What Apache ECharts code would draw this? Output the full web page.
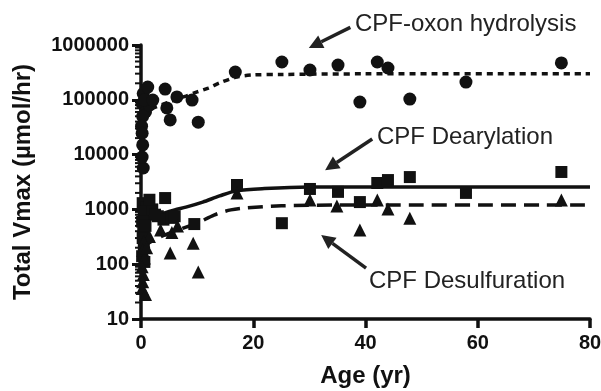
<!DOCTYPE html>
<html>
<head>
<meta charset="utf-8">
<script src="https://cdn.jsdelivr.net/npm/echarts@6/dist/echarts.min.js"></script>
<style>
  html, body { margin: 0; padding: 0; background: #fff; }
  #chart { width: 601px; height: 391px; }
</style>
</head>
<body>
<div id="chart"></div>
<script>
// [age (yr), total Vmax (µmol/hr)]
const oxonPoints = [
  [0.4, 130000], [0.2, 85000], [0.8, 60000], [0.3, 50000], [0.1, 33000], [0.2, 24500],
  [0.3, 15000], [0.4, 5700], [1.5, 80000], [0.6, 100000], [0.2, 9000],
  [1.2, 171000], [4.3, 157000], [2.1, 99000], [6.4, 113000], [9.1, 99000], [4.6, 71000],
  [5.2, 43000], [10.2, 39000], [16.8, 321000], [25.1, 490000], [30.1, 350000],
  [35.1, 431000], [42.1, 490000], [44.0, 380000], [39.0, 91000], [47.9, 103000],
  [57.9, 211000], [74.9, 470000]
]
const dearylPoints = [
  [0.3, 1300], [1.0, 1100], [0.5, 900], [2.0, 1000], [3.0, 750], [4.0, 650], [5.5, 700],
  [1.5, 1500], [0.2, 600], [0.4, 420], [0.3, 300], [0.5, 200], [0.2, 140], [0.6, 110],
  [2.5, 800], [0.8, 500], [6.0, 750],
  [4.3, 1610], [17.1, 2790], [30.1, 2360], [9.5, 540], [25.1, 560], [35.1, 2090],
  [42.1, 3030], [44.0, 3430], [47.9, 3890], [39.0, 1360], [57.9, 2000], [74.9, 4820]
]
const desulfPoints = [
  [3.5, 420], [5.5, 380], [1.5, 320], [6.5, 500], [0.5, 260], [0.3, 180], [0.6, 130],
  [0.2, 90], [0.4, 65], [0.3, 48], [0.2, 36], [1.0, 200], [0.8, 28],
  [5.2, 160], [9.3, 240], [10.2, 72], [30.1, 1480], [17.1, 2000], [34.9, 1150],
  [42.1, 1480], [44.0, 1020], [47.9, 690], [39.0, 420], [74.9, 1480]
]

// fitted curves
const oxonFit = [
  [0, 60000], [2, 70000], [5, 91000], [8, 117000], [10, 139000], [12, 164000],
  [14, 203000], [17, 260000], [20, 284000], [25, 290000], [40, 298000], [80, 300000]
]
const dearylFit = [
  [0, 590], [3, 790], [6, 980], [8, 1100], [11, 1360], [14, 1760], [17, 2180],
  [22, 2400], [30, 2560], [50, 2570], [80, 2550]
]
const desulfFit = [
  [0, 200], [3, 300], [6.5, 420], [10, 560], [13, 790], [16, 980], [19, 1070],
  [25, 1160], [35, 1200], [80, 1200]
]

const xTicks = [0, 20, 40, 60, 80]
const minorTickValues = [
  20, 30, 40, 50, 60, 70, 80, 90,
  200, 300, 400, 500, 600, 700, 800, 900,
  2000, 3000, 4000, 5000, 6000, 7000, 8000, 9000,
  20000, 30000, 40000, 50000, 60000, 70000, 80000, 90000,
  200000, 300000, 400000, 500000, 600000, 700000, 800000, 900000
]

// annotation labels and arrows (tail -> tip, in data coordinates)
const labels = [
  { text: 'CPF-oxon hydrolysis', x: 355, y: 24 },
  { text: 'CPF Dearylation', x: 377, y: 137 },
  { text: 'CPF Desulfuration', x: 369, y: 281 }
]
const arrows = [
  [[37.3, 2100000], [29.9, 880000]],
  [[41.2, 19300], [32.8, 5200]],
  [[40.1, 85], [32.1, 340]]
]

const ink = '#111'
const chart = echarts.init(document.getElementById('chart'))

const scatter = (data, symbol, size) => ({
  type: 'scatter',
  data,
  symbol,
  symbolSize: size,
  itemStyle: { color: ink, opacity: 1 },
  z: 4,
  silent: true
})
const fit = (data, dash) => ({
  type: 'line',
  data,
  showSymbol: false,
  smooth: 0.3,
  lineStyle: { color: ink, width: 3.5, type: dash },
  z: 3,
  silent: true
})

chart.setOption({
  animation: false,
  grid: { left: 141, right: 11, top: 45, bottom: 72, outerBoundsMode: 'none', containLabel: false },
  xAxis: {
    type: 'value',
    min: 0,
    max: 80,
    interval: 20,
    name: 'Age (yr)',
    nameLocation: 'middle',
    nameGap: 45,
    nameTextStyle: { fontFamily: 'Liberation Sans', fontWeight: 'bold', fontSize: 24, color: ink },
    axisLine: { lineStyle: { color: ink, width: 3.5 } },
    axisTick: { length: 9, lineStyle: { color: ink, width: 3.5 } },
    axisLabel: {
      margin: 14,
      fontFamily: 'Liberation Sans', fontWeight: 'bold', fontSize: 20, color: ink,
      formatter: v => xTicks.includes(v) ? String(v) : ''
    },
    splitLine: { show: false }
  },
  yAxis: {
    type: 'log',
    logBase: 10,
    min: 10,
    max: 1000000,
    splitNumber: 5,
    name: 'Total Vmax (µmol/hr)',
    nameLocation: 'middle',
    nameGap: 106,
    nameTextStyle: { fontFamily: 'Liberation Sans', fontWeight: 'bold', fontSize: 24, color: ink },
    axisLine: { lineStyle: { color: ink, width: 3.5 } },
    axisTick: { length: 9, lineStyle: { color: ink, width: 3 } },
    axisLabel: {
      margin: 12,
      fontFamily: 'Liberation Sans', fontWeight: 'bold', fontSize: 20, color: ink,
      formatter: v => String(Math.round(v))
    },
    splitLine: { show: false }
  },
  series: [
    fit(oxonFit, [6, 5]),
    fit(dearylFit, 'solid'),
    fit(desulfFit, [15, 8]),
    scatter(oxonPoints, 'circle', 13),
    scatter(dearylPoints, 'rect', 12),
    scatter(desulfPoints, 'triangle', 13),
    {
      type: 'custom',
      data: minorTickValues.map(v => [0, v]),
      clip: false,
      silent: true,
      z: 2,
      renderItem: (params, api) => {
        const p = api.coord([api.value(0), api.value(1)])
        return {
          type: 'line',
          shape: { x1: p[0] - 6, y1: p[1], x2: p[0], y2: p[1] },
          style: { stroke: ink, lineWidth: 2 }
        }
      }
    }
  ]
})

// arrows + labels
const graphics = []
labels.forEach(l => {
  graphics.push({
    type: 'text',
    x: l.x,
    y: l.y,
    style: {
      text: l.text,
      fontFamily: 'Liberation Sans',
      fontSize: 24,
      fill: '#222',
      verticalAlign: 'middle'
    }
  })
})
arrows.forEach(([from, to]) => {
  const a = chart.convertToPixel({ gridIndex: 0 }, from)
  const b = chart.convertToPixel({ gridIndex: 0 }, to)
  const ang = Math.atan2(b[1] - a[1], b[0] - a[0])
  const L = 14, W = 7
  const base = [b[0] - L * Math.cos(ang), b[1] - L * Math.sin(ang)]
  graphics.push({
    type: 'line',
    shape: { x1: a[0], y1: a[1], x2: base[0], y2: base[1] },
    style: { stroke: '#222', lineWidth: 3.5 }
  })
  graphics.push({
    type: 'polygon',
    shape: {
      points: [
        b,
        [base[0] + W * Math.sin(ang), base[1] - W * Math.cos(ang)],
        [base[0] - W * Math.sin(ang), base[1] + W * Math.cos(ang)]
      ]
    },
    style: { fill: '#222' }
  })
})
chart.setOption({ graphic: graphics })
</script>
</body>
</html>
